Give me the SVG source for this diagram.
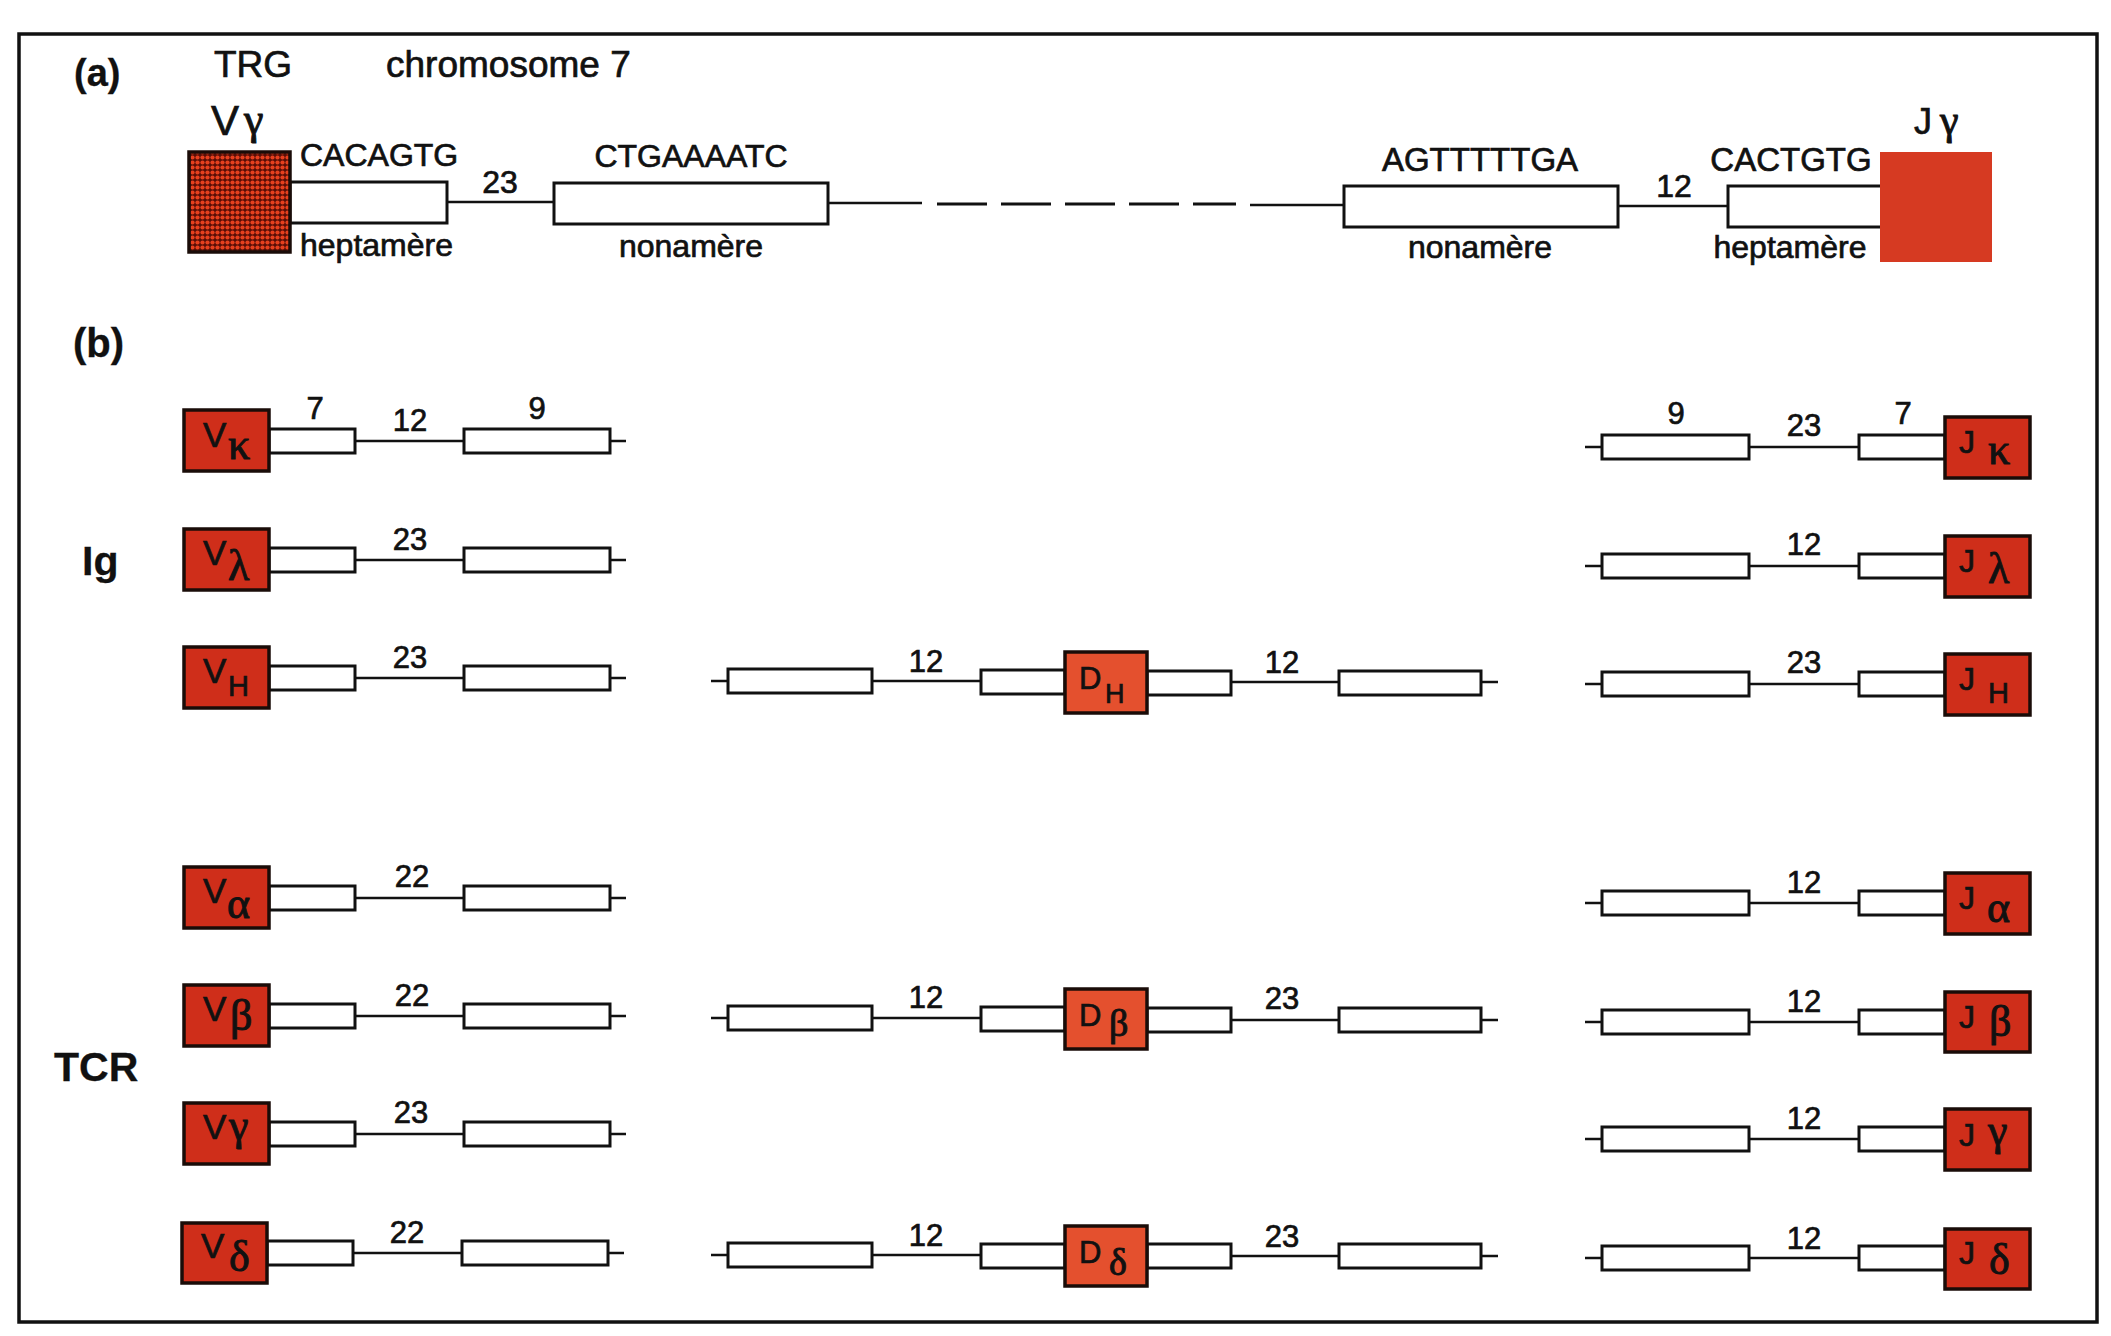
<svg xmlns="http://www.w3.org/2000/svg" width="2111" height="1336" viewBox="0 0 2111 1336">
<defs>
<style>
.frame{fill:none;stroke:#111;stroke-width:3.5}
.box{fill:#fff;stroke:#111;stroke-width:3}
.seg{fill:#cf2e1a;stroke:#1a0c08;stroke-width:3.5}
.dseg{fill:#e4502e;stroke:#1a0c08;stroke-width:3.5}
.ln{stroke:#111;stroke-width:2.6;fill:none}
.dash{stroke:#111;stroke-width:3.2;fill:none;stroke-dasharray:50 14}
.t{font-family:"Liberation Sans",Arial,sans-serif;fill:#111;stroke:#111;stroke-width:0.7}
.b{font-weight:bold;stroke-width:0.3}
.g{font-family:"Liberation Serif","DejaVu Serif",serif;fill:#111;stroke:#111;stroke-width:1}
.n{font-size:31px;text-anchor:middle}
</style>
<pattern id="dots" width="5" height="5" patternUnits="userSpaceOnUse">
<rect width="5" height="5" fill="#5a0e06"/>
<circle cx="2.5" cy="2.5" r="2.1" fill="#e6401e"/>
</pattern>
</defs>
<rect width="2111" height="1336" fill="#fff"/>
<rect class="frame" x="19" y="34" width="2078" height="1288"/>

<g id="labels">
<text class="t b" x="74" y="86" font-size="38">(a)</text>
<text class="t" x="214" y="77" font-size="37">TRG</text>
<text class="t" x="386" y="77" font-size="37">chromosome 7</text>
<text class="t b" x="73" y="357" font-size="40">(b)</text>
<text class="t b" x="82" y="575" font-size="41">Ig</text>
<text class="t b" x="54" y="1081" font-size="41">TCR</text>
</g>

<g id="connectors">
<line class="ln" x1="447" y1="202" x2="554" y2="202"/>
<line class="ln" x1="828" y1="203" x2="922" y2="203"/>
<path class="dash" d="M937 204 H1236"/>
<line class="ln" x1="1250" y1="205" x2="1344" y2="205"/>
<line class="ln" x1="1618" y1="206" x2="1728" y2="206"/>
<path class="ln" d="M355 441H464M610 441H626"/>
<path class="ln" d="M355 560H464M610 560H626"/>
<path class="ln" d="M355 678H464M610 678H626"/>
<path class="ln" d="M355 898H464M610 898H626"/>
<path class="ln" d="M355 1016H464M610 1016H626"/>
<path class="ln" d="M355 1134H464M610 1134H626"/>
<path class="ln" d="M353 1253H462M608 1253H624"/>
<path class="ln" d="M711 681H728M872 681H981M1231 682H1339M1481 682H1498"/>
<path class="ln" d="M711 1018H728M872 1018H981M1231 1020H1339M1481 1020H1498"/>
<path class="ln" d="M711 1255H728M872 1255H981M1231 1256H1339M1481 1256H1498"/>
<path class="ln" d="M1585 447H1602M1749 447H1859"/>
<path class="ln" d="M1585 566H1602M1749 566H1859"/>
<path class="ln" d="M1585 684H1602M1749 684H1859"/>
<path class="ln" d="M1585 903H1602M1749 903H1859"/>
<path class="ln" d="M1585 1022H1602M1749 1022H1859"/>
<path class="ln" d="M1585 1139H1602M1749 1139H1859"/>
<path class="ln" d="M1585 1258H1602M1749 1258H1859"/>
</g>

<g id="a-hept1"><rect class="box" x="290" y="182" width="157" height="41"/></g>
<g id="a-non1"><rect class="box" x="554" y="183" width="274" height="41"/></g>
<g id="a-non2"><rect class="box" x="1344" y="186" width="274" height="41"/></g>
<g id="a-hept2"><rect class="box" x="1728" y="186" width="156" height="41"/></g>
<g id="a-Vgamma">
<rect x="189" y="152" width="101" height="100" fill="url(#dots)" stroke="#1a0c08" stroke-width="3.5"/>
<text class="t" x="211" y="135" font-size="42">V</text>
<text class="g" x="244" y="134" font-size="44">γ</text>
</g>
<g id="a-Jgamma">
<rect x="1880" y="152" width="112" height="110" fill="#d63a22"/>
<text class="t" x="1914" y="134" font-size="36">J</text>
<text class="g" x="1940" y="134" font-size="42">γ</text>
</g>
<g id="a-text">
<text class="t" x="300" y="166" font-size="32">CACAGTG</text>
<text class="t" x="500" y="193" font-size="32" text-anchor="middle">23</text>
<text class="t" x="691" y="167" font-size="32" text-anchor="middle">CTGAAAATC</text>
<text class="t" x="300" y="256" font-size="32">heptamère</text>
<text class="t" x="691" y="257" font-size="32" text-anchor="middle">nonamère</text>
<text class="t" x="1480" y="171" font-size="33" text-anchor="middle">AGTTTTTGA</text>
<text class="t" x="1674" y="197" font-size="32" text-anchor="middle">12</text>
<text class="t" x="1791" y="171" font-size="33" text-anchor="middle">CACTGTG</text>
<text class="t" x="1480" y="258" font-size="32" text-anchor="middle">nonamère</text>
<text class="t" x="1790" y="258" font-size="32" text-anchor="middle">heptamère</text>
</g>

<g id="Vkappa">
<rect class="box" x="269" y="429" width="86" height="24"/>
<rect class="box" x="464" y="429" width="146" height="24"/>
<rect class="seg" x="184" y="410" width="85" height="61"/>
<text class="t" x="203" y="447" font-size="35">V</text>
<text class="g" x="228" y="459" font-size="44">κ</text>
<text class="t n" x="315" y="419">7</text>
<text class="t n" x="410" y="431">12</text>
<text class="t n" x="537" y="419">9</text>
</g>
<g id="Vlambda">
<rect class="box" x="269" y="548" width="86" height="24"/>
<rect class="box" x="464" y="548" width="146" height="24"/>
<rect class="seg" x="184" y="529" width="85" height="61"/>
<text class="t" x="203" y="565" font-size="35">V</text>
<text class="g" x="228" y="580" font-size="44">λ</text>
<text class="t n" x="410" y="550">23</text>
</g>
<g id="VH">
<rect class="box" x="269" y="666" width="86" height="24"/>
<rect class="box" x="464" y="666" width="146" height="24"/>
<rect class="seg" x="184" y="647" width="85" height="61"/>
<text class="t" x="203" y="683" font-size="35">V</text>
<text class="t" x="228" y="696" font-size="29">H</text>
<text class="t n" x="410" y="668">23</text>
</g>
<g id="Valpha">
<rect class="box" x="269" y="886" width="86" height="24"/>
<rect class="box" x="464" y="886" width="146" height="24"/>
<rect class="seg" x="184" y="867" width="85" height="61"/>
<text class="t" x="203" y="903" font-size="35">V</text>
<text class="g" x="227" y="918" font-size="44">α</text>
<text class="t n" x="412" y="887">22</text>
</g>
<g id="Vbeta">
<rect class="box" x="269" y="1004" width="86" height="24"/>
<rect class="box" x="464" y="1004" width="146" height="24"/>
<rect class="seg" x="184" y="985" width="85" height="61"/>
<text class="t" x="203" y="1021" font-size="35">V</text>
<text class="g" x="230" y="1030" font-size="44">β</text>
<text class="t n" x="412" y="1006">22</text>
</g>
<g id="Vgamma">
<rect class="box" x="269" y="1122" width="86" height="24"/>
<rect class="box" x="464" y="1122" width="146" height="24"/>
<rect class="seg" x="184" y="1103" width="85" height="61"/>
<text class="t" x="203" y="1139" font-size="35">V</text>
<text class="g" x="229" y="1140" font-size="44">γ</text>
<text class="t n" x="411" y="1123">23</text>
</g>
<g id="Vdelta">
<rect class="box" x="267" y="1241" width="86" height="24"/>
<rect class="box" x="462" y="1241" width="146" height="24"/>
<rect class="seg" x="182" y="1223" width="85" height="60"/>
<text class="t" x="201" y="1258" font-size="35">V</text>
<text class="g" x="229" y="1271" font-size="44">δ</text>
<text class="t n" x="407" y="1243">22</text>
</g>

<g id="DH">
<rect class="box" x="728" y="669" width="144" height="24"/>
<rect class="box" x="981" y="670" width="84" height="24"/>
<rect class="box" x="1147" y="671" width="84" height="24"/>
<rect class="box" x="1339" y="671" width="142" height="24"/>
<rect class="dseg" x="1065" y="652" width="82" height="61"/>
<text class="t" x="1079" y="689" font-size="31">D</text>
<text class="t" x="1105" y="703" font-size="27">H</text>
<text class="t n" x="926" y="672">12</text>
<text class="t n" x="1282" y="673">12</text>
</g>
<g id="Dbeta">
<rect class="box" x="728" y="1006" width="144" height="24"/>
<rect class="box" x="981" y="1007" width="84" height="24"/>
<rect class="box" x="1147" y="1008" width="84" height="24"/>
<rect class="box" x="1339" y="1008" width="142" height="24"/>
<rect class="dseg" x="1065" y="989" width="82" height="60"/>
<text class="t" x="1079" y="1026" font-size="31">D</text>
<text class="g" x="1109" y="1036" font-size="38">β</text>
<text class="t n" x="926" y="1008">12</text>
<text class="t n" x="1282" y="1009">23</text>
</g>
<g id="Ddelta">
<rect class="box" x="728" y="1243" width="144" height="24"/>
<rect class="box" x="981" y="1244" width="84" height="24"/>
<rect class="box" x="1147" y="1244" width="84" height="24"/>
<rect class="box" x="1339" y="1244" width="142" height="24"/>
<rect class="dseg" x="1065" y="1226" width="82" height="60"/>
<text class="t" x="1079" y="1263" font-size="31">D</text>
<text class="g" x="1109" y="1275" font-size="38">δ</text>
<text class="t n" x="926" y="1246">12</text>
<text class="t n" x="1282" y="1247">23</text>
</g>

<g id="Jkappa">
<rect class="box" x="1602" y="435" width="147" height="24"/>
<rect class="box" x="1859" y="435" width="86" height="24"/>
<rect class="seg" x="1945" y="417" width="85" height="61"/>
<text class="t" x="1959" y="453" font-size="32">J</text>
<text class="g" x="1988" y="464" font-size="44">κ</text>
<text class="t n" x="1676" y="424">9</text>
<text class="t n" x="1804" y="436">23</text>
<text class="t n" x="1903" y="424">7</text>
</g>
<g id="Jlambda">
<rect class="box" x="1602" y="554" width="147" height="24"/>
<rect class="box" x="1859" y="554" width="86" height="24"/>
<rect class="seg" x="1945" y="536" width="85" height="61"/>
<text class="t" x="1959" y="572" font-size="32">J</text>
<text class="g" x="1988" y="583" font-size="44">λ</text>
<text class="t n" x="1804" y="555">12</text>
</g>
<g id="JH">
<rect class="box" x="1602" y="672" width="147" height="24"/>
<rect class="box" x="1859" y="672" width="86" height="24"/>
<rect class="seg" x="1945" y="654" width="85" height="61"/>
<text class="t" x="1959" y="690" font-size="32">J</text>
<text class="t" x="1988" y="703" font-size="29">H</text>
<text class="t n" x="1804" y="673">23</text>
</g>
<g id="Jalpha">
<rect class="box" x="1602" y="891" width="147" height="24"/>
<rect class="box" x="1859" y="891" width="86" height="24"/>
<rect class="seg" x="1945" y="873" width="85" height="61"/>
<text class="t" x="1959" y="909" font-size="32">J</text>
<text class="g" x="1987" y="922" font-size="44">α</text>
<text class="t n" x="1804" y="893">12</text>
</g>
<g id="Jbeta">
<rect class="box" x="1602" y="1010" width="147" height="24"/>
<rect class="box" x="1859" y="1010" width="86" height="24"/>
<rect class="seg" x="1945" y="992" width="85" height="60"/>
<text class="t" x="1959" y="1028" font-size="32">J</text>
<text class="g" x="1989" y="1036" font-size="44">β</text>
<text class="t n" x="1804" y="1012">12</text>
</g>
<g id="Jgamma">
<rect class="box" x="1602" y="1127" width="147" height="24"/>
<rect class="box" x="1859" y="1127" width="86" height="24"/>
<rect class="seg" x="1945" y="1109" width="85" height="61"/>
<text class="t" x="1959" y="1146" font-size="32">J</text>
<text class="g" x="1988" y="1145" font-size="44">γ</text>
<text class="t n" x="1804" y="1129">12</text>
</g>
<g id="Jdelta">
<rect class="box" x="1602" y="1246" width="147" height="24"/>
<rect class="box" x="1859" y="1246" width="86" height="24"/>
<rect class="seg" x="1945" y="1229" width="85" height="60"/>
<text class="t" x="1959" y="1264" font-size="32">J</text>
<text class="g" x="1989" y="1274" font-size="44">δ</text>
<text class="t n" x="1804" y="1249">12</text>
</g>
</svg>
